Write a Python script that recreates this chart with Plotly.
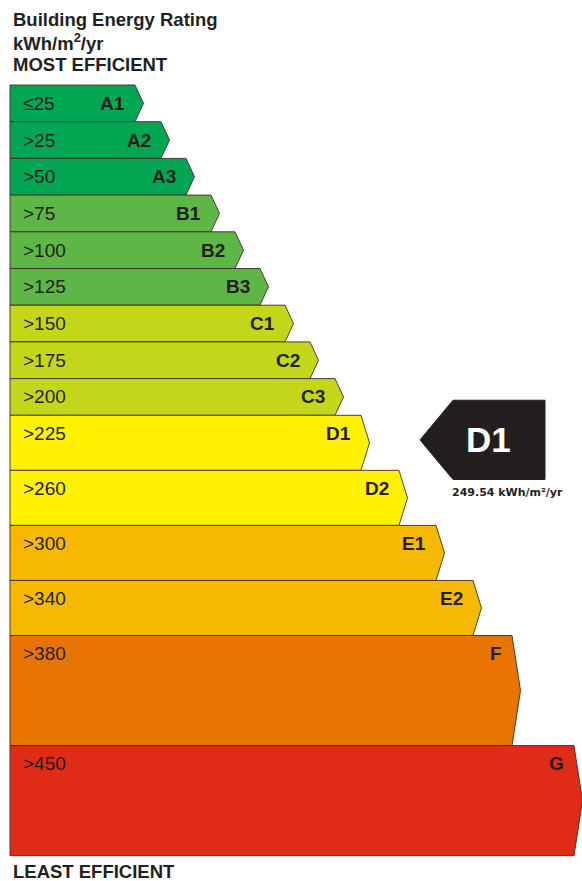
import numpy as np
import plotly.graph_objects as go

# Energy rating bands, from most to least efficient
bands = ["A1", "A2", "A3", "B1", "B2", "B3", "C1", "C2", "C3",
         "D1", "D2", "E1", "E2", "F", "G"]
range_labels = ["≤25", ">25", ">50", ">75", ">100", ">125", ">150", ">175",
                ">200", ">225", ">260", ">300", ">340", ">380", ">450"]
# Arrow length of each band on the label scale
bar_lengths = [125, 151, 176, 201, 225, 250, 275, 300, 325,
               351, 389, 426, 463, 502, 564]
# Relative row height of each band
row_heights = [1, 1, 1, 1, 1, 1, 1, 1, 1, 1.5, 1.5, 1.5, 1.5, 3, 3]

rating_value = 249.54
rating_band = "D1"

band_colors = {
    "A": "#00A651", "B": "#5DB646", "C": "#C3D61A", "D": "#FFF100",
    "E": "#F6B800", "F": "#E77400", "G": "#E02C17",
}
TEXT = "#231F20"
W, H = 582, 881
UNIT = 36.7          # pixels per row unit
TOP = 85             # pixel offset of the first band
LEFT = 10            # left edge of the bars
TIP = 8.5            # arrow tip depth

tops = np.concatenate([[0], np.cumsum(row_heights)[:-1]])
bottoms = tops + np.array(row_heights)

def ypx(p):
    """Pixel row -> y units."""
    return (p - TOP) / UNIT

fig = go.Figure()
annotations = []

for name, rl, length, t, b in zip(bands, range_labels, bar_lengths, tops, bottoms):
    right = LEFT + length
    mid = (t + b) / 2
    fig.add_trace(go.Scatter(
        x=[LEFT, right, right + TIP, right, LEFT, LEFT],
        y=[t, t, mid, b, b, t],
        mode="lines", fill="toself",
        fillcolor=band_colors[name[0]],
        line=dict(color="rgba(60,45,35,0.9)", width=1),
        hoverinfo="skip", showlegend=False,
    ))
    label_y = t + 0.5
    annotations.append(dict(
        x=LEFT + 11, y=label_y, xref="x", yref="y", text=rl,
        xanchor="left", yanchor="middle", showarrow=False,
        font=dict(family="Liberation Sans, Arial", size=19, color=TEXT),
    ))
    annotations.append(dict(
        x=right - 8, y=label_y, xref="x", yref="y", text=name,
        xanchor="right", yanchor="middle", showarrow=False,
        font=dict(family="Liberation Sans, Arial", size=19, color=TEXT,
                  weight="bold"),
    ))

# Pointer showing the rated band
ri = bands.index(rating_band)
c = (tops[ri] + bottoms[ri]) / 2 - 0.08
hh = 1.08
tip_x, box_l, box_r = 420, 453, 545
fig.add_trace(go.Scatter(
    x=[tip_x, box_l, box_r, box_r, box_l, tip_x],
    y=[c, c - hh, c - hh, c + hh, c + hh, c],
    mode="lines", fill="toself", fillcolor="#231F20",
    line=dict(color="#231F20", width=1),
    hoverinfo="skip", showlegend=False,
))
annotations.append(dict(
    x=488, y=c, xref="x", yref="y", text=rating_band,
    xanchor="center", yanchor="middle", showarrow=False,
    font=dict(family="Liberation Sans, Arial", size=35, color="white",
              weight="bold"),
))
annotations.append(dict(
    x=507, y=ypx(492), xref="x", yref="y",
    text=f"{rating_value:.2f} kWh/m²/yr",
    xanchor="center", yanchor="middle", showarrow=False,
    font=dict(family="DejaVu Sans", size=11, color=TEXT, weight="bold"),
))

# Heading and footer
for txt, py in [("Building Energy Rating", 19.5),
                ("kWh/m<sup>2</sup>/yr", 42.3),
                ("MOST EFFICIENT", 64.5),
                ("LEAST EFFICIENT", 871)]:
    annotations.append(dict(
        x=11, y=ypx(py), xref="x", yref="y", text=txt,
        xanchor="left", yanchor="middle", showarrow=False,
        font=dict(family="Liberation Sans, Arial", size=18.5, color=TEXT,
                  weight="bold"),
    ))

fig.update_layout(
    width=W, height=H,
    margin=dict(l=0, r=0, t=0, b=0),
    paper_bgcolor="white", plot_bgcolor="white",
    xaxis=dict(range=[0, W], visible=False, fixedrange=True),
    yaxis=dict(range=[ypx(H), ypx(0)], visible=False, fixedrange=True),
    annotations=annotations,
    showlegend=False,
)

fig.write_html("out.html", config={"displayModeBar": False})
